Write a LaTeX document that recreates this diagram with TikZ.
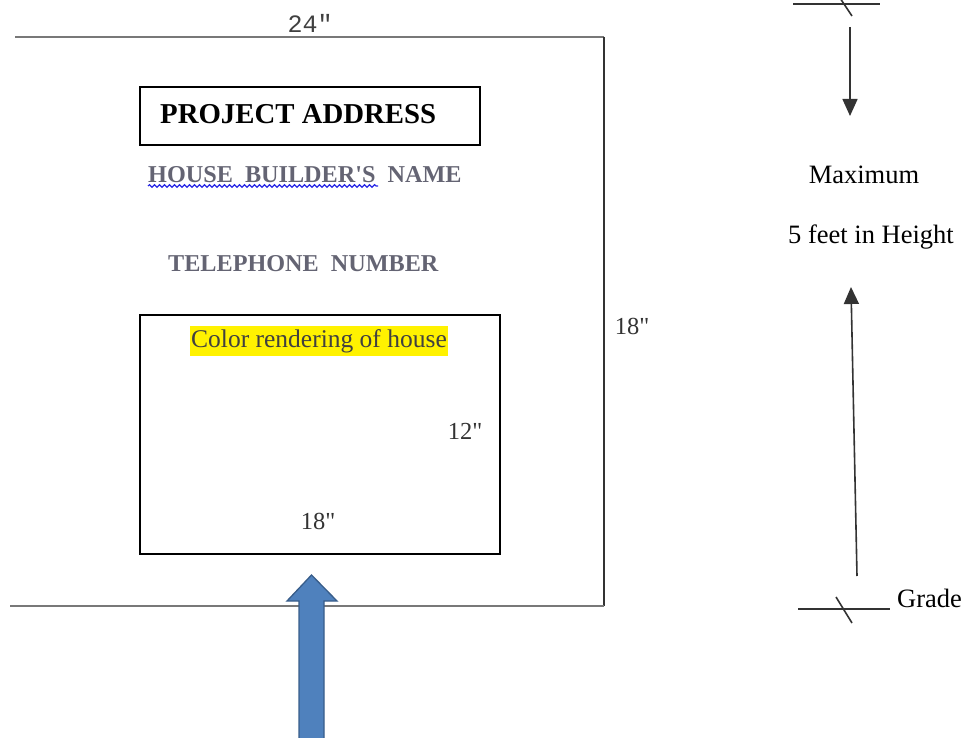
\documentclass[tikz,border=0pt]{standalone}
\usepackage{fontspec}
\setmainfont{Liberation Serif}
\setmonofont{Liberation Mono}
\usetikzlibrary{arrows.meta,decorations.pathmorphing}
\definecolor{graytxt}{RGB}{100,100,115}
\definecolor{lineg}{RGB}{120,120,120}
\definecolor{arrowblue}{RGB}{79,129,189}
\definecolor{arrowedge}{RGB}{56,93,138}
\definecolor{squig}{RGB}{40,40,230}
\newcommand{\inch}{\textquotedbl}
\tikzset{
  txt/.style={inner sep=0pt, font=\fontsize{26.5}{30}\selectfont},
  dimtxt/.style={inner sep=0pt, text=black!80, font=\fontsize{24.5}{28}\selectfont},
  graybold/.style={inner sep=0pt, text=graytxt, font=\fontsize{24.2}{28}\selectfont\bfseries},
  frame/.style={draw=black, line width=1.3pt},
  dimline/.style={draw=lineg, line width=1.6pt},
  blk/.style={draw=black!80, line width=1.6pt},
  tri/.style={-{Triangle[width=15pt,length=17pt]}, draw=black!80, line width=1.6pt},
}
\begin{document}
\begin{tikzpicture}[x=1pt,y=-1pt]
\useasboundingbox (0,0) rectangle (969,738);
% outer sign outline
\coordinate (tl) at (15,37);
\coordinate (tr) at (604,37);
\coordinate (br) at (604,606);
\coordinate (bl) at (10,606);
\draw[dimline] (tl) -- (tr);
\draw[blk,line width=1.4pt] (tr) -- (br);
\draw[dimline] (br) -- (bl);
\node[inner sep=0pt, text=black!75, font=\fontsize{25}{28}\selectfont\ttfamily] (w24) at (310,23) {24\inch};
\node[dimtxt] (h18) at (632,326) {18\inch};
% project address
\node[frame, minimum width=340pt, minimum height=58pt] (pabox) at (310,116) {};
\node[inner sep=0pt, font=\fontsize{28.8}{32}\selectfont\bfseries, anchor=west] (pa) at (160,114) {PROJECT ADDRESS};
\node[graybold, anchor=west] (hb) at (148,175) {HOUSE\ \ BUILDER\textquotesingle S\ \ NAME};
\draw[squig, line width=1.2pt, decorate, decoration={snake, amplitude=1.3pt, segment length=5pt}] (148,186) -- (378,186);
\node[graybold, anchor=west] (tel) at (168,264) {TELEPHONE\ \ NUMBER};
% rendering box
\node[frame, minimum width=360pt, minimum height=239pt] (rbox) at (320,434.5) {};
\node[fill=yellow, text=black!75, inner xsep=1.5pt, inner ysep=3pt, font=\fontsize{25.5}{28}\selectfont] (crh) at (319,341) {Color rendering of house};
\node[dimtxt] (d12) at (465,431) {12\inch};
\node[dimtxt] (d18) at (318,521) {18\inch};
% blue arrow
\draw[fill=arrowblue, draw=arrowedge, line width=1.3pt]
  (299,745) -- (299,601) -- (287,601) -- (311.5,575) -- (337,601) -- (324,601) -- (324,745) -- cycle;
% right side height indicator
\coordinate (t1) at (793,4);
\coordinate (t2) at (880,4);
\draw[blk] (t1) -- (t2);
\draw[blk] (840,-2) -- (852,16);
\coordinate (a1s) at (850,27);
\coordinate (a1e) at (850,116);
\draw[tri] (a1s) -- (a1e);
\node[txt] (max) at (864,175) {Maximum};
\node[txt] (fh) at (871,237) {5 feet in Height};
\coordinate (a2s) at (857,576);
\coordinate (a2e) at (851,287);
\draw[tri] (a2s) -- (a2e);
\coordinate (g1) at (798,609);
\coordinate (g2) at (890,609);
\draw[blk] (g1) -- (g2);
\draw[blk] (836,597) -- (852,623);
\node[txt, anchor=west] (grade) at (897,598) {Grade};
\end{tikzpicture}
\end{document}
